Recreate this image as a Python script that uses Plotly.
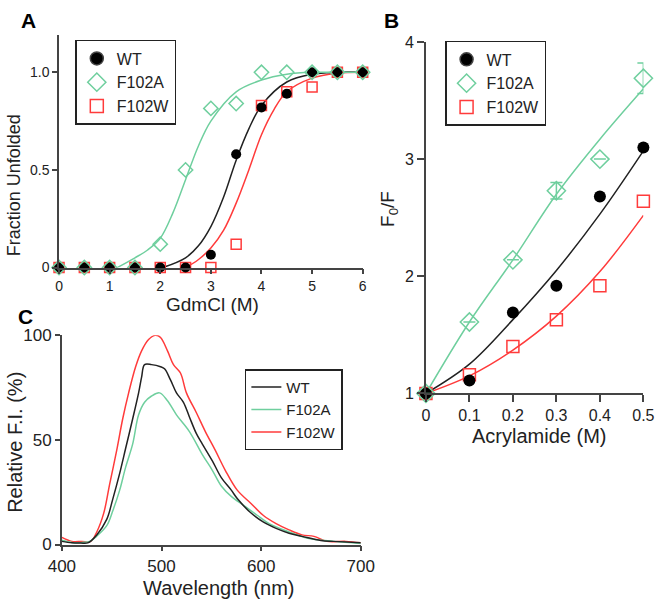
import plotly.graph_objects as go

W, H = 666, 601
def px(x): return x / W
def py(y): return 1 - y / H

BLACK = "#000000"
GREEN = "#6fcf9e"
RED = "#ff3b3b"
AX = "#444444"
FONT = "Liberation Sans, Arial, sans-serif"

# ---------------- Panel A: denaturation ----------------
gdm = [0, 0.5, 1, 1.5, 2, 2.5, 3, 3.5, 4, 4.5, 5, 5.5, 6]
a_wt = [0, 0, 0, 0, 0, 0, 0.066, 0.58, 0.82, 0.89, 1.0, 1.0, 1.0]
a_f102a = [0, 0, 0, 0, 0.12, 0.50, 0.815, 0.84, 1.0, 1.0, 1.0, 1.0, 1.0]
a_f102w = [0, 0, 0, 0, 0, 0, 0, 0.12, 0.83, 0.90, 0.925, 1.0, 1.0]

fit_a_wt_x = [2.05, 2.5, 2.75, 3.0, 3.25, 3.5, 3.75, 4.0, 4.5, 5.0, 5.5, 6.0]
fit_a_wt_y = [0, 0.05, 0.11, 0.21, 0.36, 0.55, 0.71, 0.83, 0.95, 0.99, 1.0, 1.0]
fit_a_f102a_x = [1.15, 1.5, 1.75, 2.0, 2.25, 2.5, 2.75, 3.0, 3.5, 4.0, 4.5, 5.0, 5.5, 6.0]
fit_a_f102a_y = [0, 0.05, 0.09, 0.15, 0.28, 0.45, 0.62, 0.75, 0.90, 0.96, 0.99, 1.0, 1.0, 1.0]
fit_a_f102w_x = [2.5, 2.75, 3.0, 3.25, 3.5, 3.75, 4.0, 4.25, 4.5, 5.0, 5.5, 6.0]
fit_a_f102w_y = [0, 0.04, 0.10, 0.19, 0.33, 0.50, 0.68, 0.81, 0.90, 0.97, 0.995, 1.0]

# ---------------- Panel B: quenching ----------------
acr = [0, 0.1, 0.2, 0.3, 0.4, 0.5]
b_wt = [1.0, 1.11, 1.69, 1.92, 2.68, 3.10]
b_f102a = [1.0, 1.61, 2.14, 2.73, 3.00, 3.69]
b_f102a_err = [None, None, None, 0.07, None, 0.13]
b_f102w = [1.0, 1.16, 1.40, 1.63, 1.92, 2.64]
fit_b_wt = [1.0, 1.25, 1.63, 2.05, 2.53, 3.07]
fit_b_f102a = [1.0, 1.61, 2.14, 2.70, 3.17, 3.60]
fit_b_f102w = [1.0, 1.15, 1.37, 1.66, 2.04, 2.52]

# ---------------- Panel C: spectra ----------------
c_wt_x = [400, 410, 419, 426, 435, 445, 451, 458, 464, 471, 477, 480, 483, 490, 499, 503, 509, 515, 522, 528, 535, 541, 551, 560, 570, 576, 589, 602, 615, 628, 641, 660, 673, 700]
c_wt_y = [1.5, 0.8, 0.7, 0.8, 4.6, 12, 21.6, 34, 46, 60, 72.5, 80, 86, 86, 85, 84, 78.7, 72.5, 68, 61, 53, 48, 40, 32, 26, 22, 15.4, 10.8, 7.7, 5.4, 3.9, 1.9, 1.5, 0.8]
c_f102a_x = [400, 410, 420, 428, 435, 445, 451, 458, 464, 471, 477, 483, 490, 498, 506, 515, 528, 541, 551, 560, 570, 583, 596, 608, 628, 647, 673, 700]
c_f102a_y = [2.0, 1.0, 1.0, 1.5, 4, 9, 16, 26, 37, 48, 62, 68, 71, 72.5, 68.7, 62, 54, 43, 35.5, 28, 23, 18.5, 14, 10, 6, 3, 1.5, 0.5]
c_f102w_x = [400, 410, 420, 429, 435, 442, 448, 455, 461, 467, 474, 480, 487, 494, 499, 506, 512, 519, 525, 535, 544, 554, 564, 576, 589, 602, 615, 628, 641, 653, 666, 685, 700]
c_f102w_y = [3.4, 1.5, 1.5, 1.5, 6, 15, 29, 45, 60, 72.5, 85, 92.6, 98, 100, 99, 92.6, 86, 82, 72.5, 63, 54, 45, 35.5, 26, 20, 14, 10, 7, 4.6, 3.9, 1.5, 1.5, 0.8]

legend_names = ["WT", "F102A", "F102W"]

fig = go.Figure()

# Panel A traces (draw order: red, black, green)
fig.add_trace(go.Scatter(x=fit_a_f102w_x, y=fit_a_f102w_y, mode="lines", line=dict(color=RED, width=1.5, shape="spline"),
                         xaxis="x", yaxis="y", showlegend=False))
fig.add_trace(go.Scatter(x=fit_a_wt_x, y=fit_a_wt_y, mode="lines", line=dict(color="#222222", width=1.5, shape="spline"),
                         xaxis="x", yaxis="y", showlegend=False))
fig.add_trace(go.Scatter(x=fit_a_f102a_x, y=fit_a_f102a_y, mode="lines", line=dict(color=GREEN, width=1.5, shape="spline"),
                         xaxis="x", yaxis="y", showlegend=False))
fig.add_trace(go.Scatter(x=gdm, y=a_f102w, mode="markers", cliponaxis=False,
                         marker=dict(symbol="square-open", size=10, color=RED, line=dict(width=1.5)),
                         xaxis="x", yaxis="y", showlegend=False))
fig.add_trace(go.Scatter(x=gdm, y=a_wt, mode="markers", cliponaxis=False,
                         marker=dict(symbol="circle", size=10, color=BLACK),
                         xaxis="x", yaxis="y", showlegend=False))
fig.add_trace(go.Scatter(x=gdm, y=a_f102a, mode="markers", cliponaxis=False,
                         marker=dict(symbol="diamond-open", size=11, color=GREEN, line=dict(width=1.5)),
                         xaxis="x", yaxis="y", showlegend=False))

# Panel B traces
fig.add_trace(go.Scatter(x=acr, y=fit_b_f102w, mode="lines", line=dict(color=RED, width=1.5, shape="spline"),
                         xaxis="x2", yaxis="y2", showlegend=False))
fig.add_trace(go.Scatter(x=acr, y=fit_b_wt, mode="lines", line=dict(color="#222222", width=1.5, shape="spline"),
                         xaxis="x2", yaxis="y2", showlegend=False))
fig.add_trace(go.Scatter(x=acr, y=fit_b_f102a, mode="lines", line=dict(color=GREEN, width=1.5, shape="spline"),
                         xaxis="x2", yaxis="y2", showlegend=False))
fig.add_trace(go.Scatter(x=acr, y=b_f102w, mode="markers", cliponaxis=False,
                         marker=dict(symbol="square-open", size=12, color=RED, line=dict(width=1.5)),
                         xaxis="x2", yaxis="y2", showlegend=False))
fig.add_trace(go.Scatter(x=acr, y=b_wt, mode="markers", cliponaxis=False,
                         marker=dict(symbol="circle", size=12, color=BLACK),
                         xaxis="x2", yaxis="y2", showlegend=False))
fig.add_trace(go.Scatter(x=acr, y=b_f102a, mode="markers", cliponaxis=False,
                         marker=dict(symbol="diamond-open", size=14, color=GREEN, line=dict(width=1.5)),
                         error_y=dict(type="data", array=b_f102a_err, color=GREEN, thickness=1.5, width=6),
                         xaxis="x2", yaxis="y2", showlegend=False))

# Panel C traces
fig.add_trace(go.Scatter(x=c_f102w_x, y=c_f102w_y, mode="lines", line=dict(color=RED, width=1.5, shape="spline"),
                         xaxis="x3", yaxis="y3", showlegend=False))
fig.add_trace(go.Scatter(x=c_f102a_x, y=c_f102a_y, mode="lines", line=dict(color=GREEN, width=1.5, shape="spline"),
                         xaxis="x3", yaxis="y3", showlegend=False))
fig.add_trace(go.Scatter(x=c_wt_x, y=c_wt_y, mode="lines", line=dict(color="#222222", width=1.5, shape="spline"),
                         xaxis="x3", yaxis="y3", showlegend=False))

# Legend-only traces
syms = [("circle", BLACK, 13), ("diamond-open", GREEN, 14), ("square-open", RED, 13)]
for name, (sym, col, sz) in zip(legend_names, syms):
    fig.add_trace(go.Scatter(x=[None], y=[None], mode="markers", name=name,
                             marker=dict(symbol=sym, size=sz, color=col, line=dict(width=1.5)),
                             xaxis="x", yaxis="y", legend="legend"))
for name, (sym, col, sz) in zip(legend_names, syms):
    fig.add_trace(go.Scatter(x=[None], y=[None], mode="markers", name=name,
                             marker=dict(symbol=sym, size=sz, color=col, line=dict(width=1.5)),
                             xaxis="x2", yaxis="y2", legend="legend2"))
for name, col in zip(legend_names, ["#222222", GREEN, RED]):
    fig.add_trace(go.Scatter(x=[None], y=[None], mode="lines", name=name,
                             line=dict(color=col, width=1.5),
                             xaxis="x3", yaxis="y3", legend="legend3"))

axis_common = dict(showline=True, linecolor=AX, linewidth=1.5, ticks="outside", ticklen=5,
                   tickwidth=1.5, tickcolor=AX, showgrid=False, zeroline=False,
                   tickfont=dict(family=FONT, size=14, color="#222"))

def tf(size):
    return dict(family=FONT, size=size, color="#222")

fig.update_layout(
    width=W, height=H, margin=dict(l=0, r=0, t=0, b=0),
    paper_bgcolor="white", plot_bgcolor="white",
    font=dict(family=FONT, color="#222"),
    xaxis=dict(domain=[px(47), px(364)], range=[0, 6], anchor="y", tickvals=[0, 1, 2, 3, 4, 5, 6],
               **axis_common),
    yaxis=dict(domain=[py(267), py(27)], range=[0, 1.19], anchor="x", tickvals=[0, 0.5, 1.0],
               ticktext=["0", "0.5", "1.0"], **axis_common),
    xaxis2=dict(domain=[px(430), px(657)], range=[0, 0.5], anchor="y2",
                tickvals=[0, 0.1, 0.2, 0.3, 0.4, 0.5], ticktext=["0", "0.1", "0.2", "0.3", "0.4", "0.5"],
                **{**axis_common, "ticklen": 7, "tickfont": tf(16)}),
    yaxis2=dict(domain=[py(397), py(34)], range=[1, 4], anchor="x2", tickvals=[1, 2, 3, 4],
                **{**axis_common, "ticklen": 7, "tickfont": tf(16)}),
    xaxis3=dict(domain=[px(50), px(362)], range=[400, 700], anchor="y3", tickvals=[400, 500, 600, 700],
                **{**axis_common, "tickfont": tf(17)}),
    yaxis3=dict(domain=[py(553), py(337)], range=[0, 100], anchor="x3", tickvals=[0, 50, 100],
                **{**axis_common, "tickfont": tf(17)}),
    legend=dict(x=px(64), y=py(32), xanchor="left", yanchor="top", bordercolor="#222", borderwidth=1.5,
                bgcolor="white", font=tf(16), tracegroupgap=0),
    legend2=dict(x=px(450), y=py(33), xanchor="left", yanchor="top", bordercolor="#222", borderwidth=1.5,
                 bgcolor="white", font=tf(16), tracegroupgap=0),
    legend3=dict(x=px(241), y=py(372), xanchor="left", yanchor="top", bordercolor="#222", borderwidth=1.5,
                 bgcolor="white", font=tf(15), tracegroupgap=0),
)

def ann(text, x, y, size, angle=0, bold=False):
    fig.add_annotation(text=f"<b>{text}</b>" if bold else text, x=px(x), y=py(y), xref="paper", yref="paper",
                       showarrow=False, textangle=angle, xanchor="center", yanchor="middle",
                       font=dict(family=FONT, size=size, color="#000" if bold else "#222"))

ann("A", 15, 12, 21, bold=True)
ann("B", 394, 12, 21, bold=True)
ann("C", 12, 318, 21, bold=True)
ann("Fraction Unfolded", 0, 182, 18, angle=-90)
ann("GdmCl (M)", 207, 305, 19)
ann("F<sub>0</sub>/F", 392, 207, 19, angle=-90)
ann("Acrylamide (M)", 548, 441, 20)
ann("Relative F.I. (%)", 1, 447, 20, angle=-90)
ann("Wavelength (nm)", 214, 598, 20)

fig.write_html("out.html")
